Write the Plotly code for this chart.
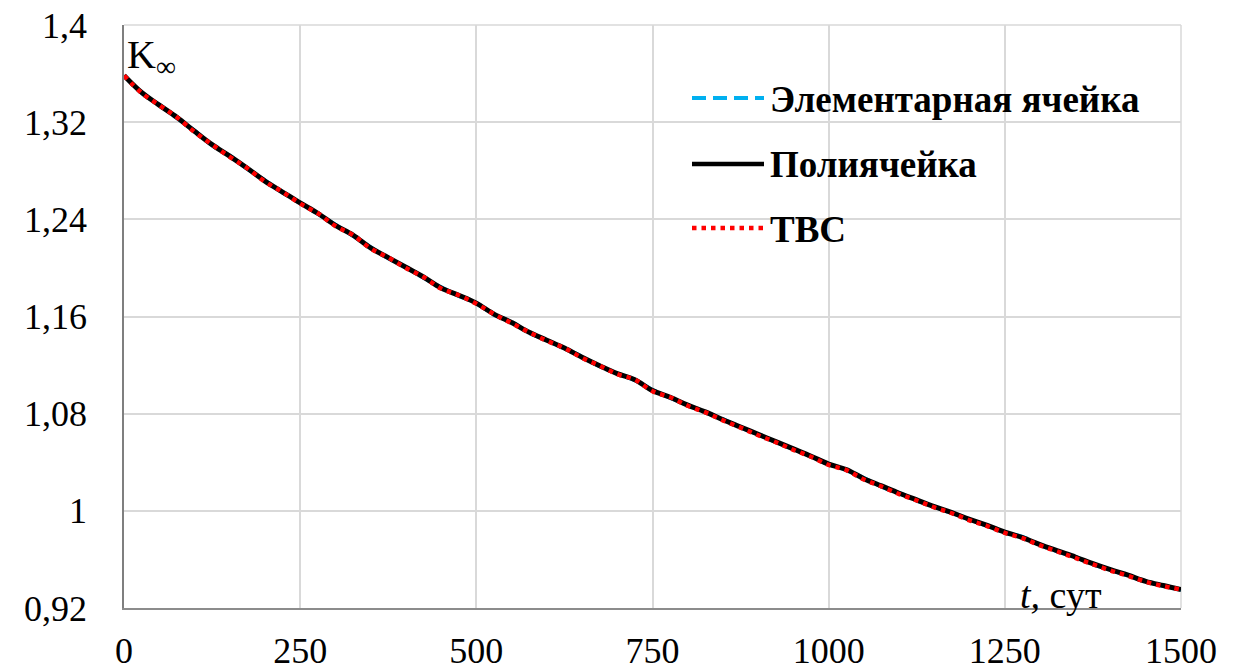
import plotly.graph_objects as go

# ---- data ----
days = list(range(0, 1501, 25))
polycell = [1.3585, 1.3445, 1.3340, 1.3240, 1.3125, 1.3015, 1.2920, 1.2820, 1.2715, 1.2625,
            1.2535, 1.2450, 1.2350, 1.2270, 1.2165, 1.2085, 1.2005, 1.1925, 1.1835, 1.1775,
            1.1710, 1.1620, 1.1550, 1.1470, 1.1405, 1.1340, 1.1265, 1.1195, 1.1130, 1.1080,
            1.0990, 1.0935, 1.0870, 1.0815, 1.0750, 1.0690, 1.0630, 1.0570, 1.0510, 1.0450,
            1.0385, 1.0340, 1.0265, 1.0205, 1.0145, 1.0090, 1.0035, 0.9985, 0.9930, 0.9880,
            0.9825, 0.9780, 0.9722, 0.9670, 0.9620, 0.9565, 0.9515, 0.9470, 0.9420, 0.9385,
            0.9352]
unit_cell = [1.3585, 1.3440, 1.3345, 1.3235, 1.3130, 1.3010, 1.2925, 1.2815, 1.2720, 1.2620,
             1.2535, 1.2445, 1.2355, 1.2265, 1.2170, 1.2080, 1.2005, 1.1920, 1.1840, 1.1770,
             1.1710, 1.1615, 1.1555, 1.1465, 1.1405, 1.1335, 1.1270, 1.1190, 1.1130, 1.1075,
             1.0995, 1.0930, 1.0870, 1.0810, 1.0755, 1.0685, 1.0630, 1.0565, 1.0510, 1.0445,
             1.0385, 1.0335, 1.0270, 1.0200, 1.0145, 1.0085, 1.0035, 0.9980, 0.9930, 0.9875,
             0.9825, 0.9785, 0.9720, 0.9665, 0.9620, 0.9560, 0.9515, 0.9465, 0.9420, 0.9380,
             0.9352]
fa = [1.3585, 1.3440, 1.3340, 1.3240, 1.3120, 1.3015, 1.2915, 1.2820, 1.2710, 1.2625,
      1.2530, 1.2450, 1.2345, 1.2270, 1.2160, 1.2085, 1.2000, 1.1925, 1.1830, 1.1775,
      1.1705, 1.1620, 1.1545, 1.1470, 1.1400, 1.1340, 1.1260, 1.1195, 1.1125, 1.1080,
      1.0985, 1.0935, 1.0865, 1.0810, 1.0745, 1.0685, 1.0622, 1.0565, 1.0502, 1.0445,
      1.0378, 1.0335, 1.0258, 1.0200, 1.0138, 1.0085, 1.0028, 0.9980, 0.9922, 0.9875,
      0.9818, 0.9775, 0.9715, 0.9665, 0.9612, 0.9560, 0.9508, 0.9465, 0.9415, 0.9380,
      0.9352]

x_ticks = [0, 250, 500, 750, 1000, 1250, 1500]
y_ticks = [0.92, 1.0, 1.08, 1.16, 1.24, 1.32, 1.4]
y_tick_text = ["0,92", "1", "1,08", "1,16", "1,24", "1,32", "1,4"]
names = ["Элементарная ячейка", "Полиячейка", "ТВС"]

# ---- layout geometry (pixels) ----
W, H = 1248, 670
L, R, T, B = 124, 67, 25, 62
PW, PH = W - L - R, H - T - B

def px(x):
    return (x - L) / PW

def py(y):
    return (H - B - y) / PH

fig = go.Figure()
fig.add_trace(go.Scatter(x=days, y=unit_cell, mode="lines", name=names[0],
                         line=dict(color="#00B0F0", width=4, dash="14px,7px", shape="spline"),
                         showlegend=False))
fig.add_trace(go.Scatter(x=days, y=polycell, mode="lines", name=names[1],
                         line=dict(color="#000000", width=5, shape="spline"),
                         showlegend=False))
fig.add_trace(go.Scatter(x=days, y=fa, mode="lines", name=names[2],
                         line=dict(color="#FF0000", width=4.5, dash="4.5px,5px", shape="spline"),
                         showlegend=False))

tick_font = dict(family="Liberation Serif", size=36, color="#000000")

fig.update_layout(
    width=W, height=H,
    margin=dict(l=L, r=R, t=T, b=B, autoexpand=False),
    paper_bgcolor="white", plot_bgcolor="white",
    xaxis=dict(range=[0, 1500], tickvals=x_ticks, ticktext=[str(v) for v in x_ticks],
               showgrid=True, gridcolor="#d9d9d9", gridwidth=1.5,
               showline=True, linecolor="#8c8c8c", linewidth=1.5, automargin=False,
               ticks="", ticklabelstandoff=10, tickfont=tick_font, zeroline=False),
    yaxis=dict(range=[0.92, 1.4], tickvals=y_ticks, ticktext=y_tick_text,
               showgrid=True, gridcolor="#d9d9d9", gridwidth=1.5,
               showline=True, linecolor="#7f7f7f", linewidth=1.5, automargin=False,
               ticks="", ticklabelstandoff=28, tickfont=tick_font, zeroline=False),
)

# top & right grid borders
fig.add_shape(type="line", xref="paper", yref="paper", x0=0, x1=1, y0=1, y1=1,
              line=dict(color="#d9d9d9", width=1.5), layer="below")
fig.add_shape(type="line", xref="paper", yref="paper", x0=1, x1=1, y0=0, y1=1,
              line=dict(color="#d9d9d9", width=1.5), layer="below")

# custom legend
leg_rows = [(98, "#00B0F0", "14px,7px", 4), (164, "#000000", "solid", 4.5), (228, "#FF0000", "4.5px,5px", 4.5)]
for (yy, col, dash, wd), nm in zip(leg_rows, names):
    fig.add_shape(type="line", xref="paper", yref="paper",
                  x0=px(692), x1=px(764), y0=py(yy), y1=py(yy),
                  line=dict(color=col, width=wd, dash=dash))
    fig.add_annotation(xref="paper", yref="paper", x=px(768), y=py(yy + 1),
                       xanchor="left", yanchor="middle", showarrow=False, text=nm,
                       font=dict(family="Liberation Serif", size=37, color="#000000", weight="bold"))

# axis titles inside the plot
fig.add_annotation(xref="paper", yref="paper", x=px(125), y=py(30), xanchor="left", yanchor="top",
                   showarrow=False, text="K<sub>∞</sub>",
                   font=dict(family="Liberation Serif", size=40, color="#000000"))
fig.add_annotation(xref="paper", yref="paper", x=px(1018), y=py(618), xanchor="left", yanchor="bottom",
                   showarrow=False, text="<i>t,</i> сут",
                   font=dict(family="Liberation Serif", size=38, color="#000000"))

fig.write_html("out.html")
